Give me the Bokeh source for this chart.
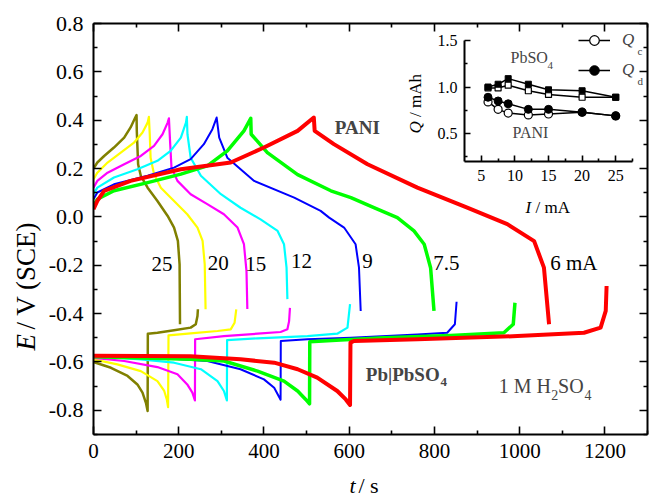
import math
from bokeh.plotting import figure
from bokeh.models import (Range1d, LinearAxis, FixedTicker, PrintfTickFormatter,
                          CustomJSTickFormatter, Label, Legend, LegendItem)
from bokeh.embed import file_html
from bokeh.resources import INLINE

SERIF = "Liberation Serif"
AXFONT = "'Liberation Serif'"

# ---------------- main chart data (t in s, E in V vs SCE) ----------------
# PANI electrode: charge up to ~0.41 V, then discharge
pani_25_t = [0, 9, 25, 48, 72, 87, 98, 101, 101.6, 104.7, 111, 127, 150, 174, 189, 198, 202, 203]
pani_25_E = [0.20, 0.225, 0.252, 0.287, 0.328, 0.370, 0.411, 0.421, 0.356, 0.218, 0.170, 0.121, 0.066, 0.004, -0.044, -0.099, -0.196, -0.444]
pani_20_t = [0, 9, 33, 64, 95, 115, 127, 130, 132, 134, 142, 158, 189, 220, 244, 256, 261, 263]
pani_20_E = [0.156, 0.183, 0.225, 0.266, 0.307, 0.349, 0.390, 0.414, 0.342, 0.245, 0.177, 0.121, 0.066, 0.011, -0.044, -0.099, -0.196, -0.382]
pani_15_t = [0, 9, 33, 72, 111, 142, 162, 174, 177, 180, 183, 197, 228, 267, 306, 338, 353, 359, 361]
pani_15_E = [0.121, 0.149, 0.183, 0.218, 0.252, 0.294, 0.342, 0.390, 0.408, 0.301, 0.204, 0.149, 0.094, 0.053, 0.011, -0.044, -0.113, -0.224, -0.381]
pani_12_t = [0, 9, 48, 103, 150, 181, 205, 217, 219, 220.5, 228, 252, 299, 345, 392, 432, 447, 453, 455]
pani_12_E = [0.094, 0.121, 0.163, 0.197, 0.232, 0.273, 0.328, 0.390, 0.414, 0.342, 0.245, 0.170, 0.094, 0.038, -0.010, -0.058, -0.113, -0.210, -0.340]
pani_9_t = [0, 9, 48, 127, 189, 228, 259, 279, 289, 295, 314, 377, 471, 533, 553, 588, 615, 623, 627]
pani_9_E = [0.073, 0.101, 0.135, 0.170, 0.204, 0.239, 0.301, 0.363, 0.411, 0.328, 0.245, 0.149, 0.080, 0.025, -0.003, -0.044, -0.113, -0.210, -0.389]
pani_75_t = [0, 9, 48, 127, 205, 267, 314, 353, 369, 370, 408, 479, 557, 604, 658, 713, 752, 776, 791, 799]
pani_75_E = [0.045, 0.073, 0.108, 0.142, 0.177, 0.211, 0.273, 0.356, 0.408, 0.342, 0.266, 0.175, 0.108, 0.080, 0.038, -0.003, -0.058, -0.113, -0.210, -0.389]
pani_6_t = [0, 9, 25, 87, 205, 322, 400, 479, 517, 519, 564, 643, 760, 877, 971, 1034, 1057, 1069]
pani_6_E = [0.032, 0.066, 0.108, 0.149, 0.197, 0.225, 0.287, 0.356, 0.411, 0.356, 0.301, 0.218, 0.121, 0.038, -0.030, -0.100, -0.210, -0.444]

# Pb|PbSO4 electrode: discharge down, then charge plateau
pb_25_t = [0, 41, 80, 103, 115, 123, 127, 127.5, 150, 189, 228, 240, 244, 245]
pb_25_E = [-0.600, -0.624, -0.658, -0.693, -0.727, -0.769, -0.803, -0.483, -0.479, -0.469, -0.458, -0.444, -0.410, -0.382]
pb_20_t = [0, 56, 111, 150, 166, 172, 175, 176, 228, 291, 322, 331, 335]
pb_20_E = [-0.589, -0.610, -0.638, -0.679, -0.720, -0.755, -0.787, -0.490, -0.482, -0.472, -0.465, -0.438, -0.382]
pb_15_t = [0, 72, 150, 197, 220, 232, 238, 238.5, 306, 385, 439, 455, 459, 461]
pb_15_E = [-0.583, -0.596, -0.621, -0.651, -0.693, -0.727, -0.759, -0.506, -0.493, -0.483, -0.476, -0.465, -0.431, -0.376]
pb_12_t = [0, 111, 189, 252, 291, 306, 313, 313.5, 385, 502, 572, 596, 602]
pb_12_E = [-0.576, -0.589, -0.603, -0.630, -0.679, -0.720, -0.759, -0.510, -0.502, -0.493, -0.483, -0.458, -0.361]
pb_9_t = [0, 150, 267, 345, 400, 424, 439, 439.5, 502, 604, 760, 830, 848, 852]
pb_9_E = [-0.573, -0.583, -0.596, -0.630, -0.672, -0.707, -0.756, -0.513, -0.506, -0.500, -0.486, -0.479, -0.444, -0.351]
pb_75_t = [0, 228, 306, 385, 447, 479, 498, 507, 507.5, 580, 682, 838, 963, 985, 989]
pb_75_E = [-0.578, -0.589, -0.596, -0.638, -0.679, -0.720, -0.755, -0.773, -0.516, -0.509, -0.500, -0.490, -0.479, -0.444, -0.355]
pb_6_t = [0, 228, 345, 424, 479, 525, 572, 592, 602, 603, 611, 760, 995, 1151, 1190, 1202, 1204]
pb_6_E = [-0.574, -0.576, -0.589, -0.603, -0.630, -0.665, -0.720, -0.755, -0.778, -0.520, -0.513, -0.506, -0.493, -0.479, -0.458, -0.389, -0.286]

current_labels = ["25", "20", "15", "12", "9", "7.5", "6 mA"]

# ticks
x_major = [0, 200, 400, 600, 800, 1000, 1200]
x_minor = [100, 300, 500, 700, 900, 1100, 1300]
y_major = [-0.8, -0.6, -0.4, -0.2, 0.0, 0.2, 0.4, 0.6, 0.8]
y_minor = [-0.9, -0.7, -0.5, -0.3, -0.1, 0.1, 0.3, 0.5, 0.7]

# ---------------- inset data ----------------
I_mA = [6, 7.5, 9, 12, 15, 20, 25]
pb_Qd = [1.00, 1.03, 1.09, 1.03, 0.97, 0.96, 0.89]
pb_Qc = [0.99, 0.99, 1.02, 0.96, 0.92, 0.89, 0.89]
pani_Qd = [0.89, 0.85, 0.82, 0.76, 0.76, 0.73, 0.69]
pani_Qc = [0.84, 0.76, 0.72, 0.70, 0.71, 0.73, 0.69]
ix_major = [5, 10, 15, 20, 25]
ix_minor = [7.5, 12.5, 17.5, 22.5, 27.5]
iy_major = [0.5, 1.0, 1.5]
iy_minor = [0.25, 0.75, 1.25]

# ---------------- styles ----------------
colors = ["#808000", "#FFFF00", "#FF00FF", "#00FFFF", "#0000FF", "#00FF00", "#FF0000"]
widths = [2.5, 2.2, 2.2, 2.2, 2.0, 3.5, 4.0]

pani_t = [pani_25_t, pani_20_t, pani_15_t, pani_12_t, pani_9_t, pani_75_t, pani_6_t]
pani_E = [pani_25_E, pani_20_E, pani_15_E, pani_12_E, pani_9_E, pani_75_E, pani_6_E]
pb_t = [pb_25_t, pb_20_t, pb_15_t, pb_12_t, pb_9_t, pb_75_t, pb_6_t]
pb_E = [pb_25_E, pb_20_E, pb_15_E, pb_12_E, pb_9_E, pb_75_E, pb_6_E]

p = figure(frame_width=554, frame_height=411,
           x_range=Range1d(0, 1300), y_range=Range1d(-0.9, 0.8),
           x_axis_type=None, y_axis_type=None,
           output_backend="svg", toolbar_location=None,
           min_border_left=93, min_border_right=2, min_border_top=23, min_border_bottom=64)
p.outline_line_color = None
p.background_fill_color = "white"
p.border_fill_color = "white"


def style_axis(ax, major, minor, fmt, size, tick_major=8, tick_minor=4, standoff=8):
    ax.ticker = FixedTicker(ticks=major, minor_ticks=minor)
    ax.formatter = fmt
    ax.axis_line_width = 2
    ax.axis_line_color = "black"
    ax.major_tick_in = tick_major
    ax.major_tick_out = 0
    ax.minor_tick_in = tick_minor
    ax.minor_tick_out = 0
    ax.major_tick_line_width = 1.6
    ax.minor_tick_line_width = 1.6
    ax.major_tick_line_color = "black"
    ax.minor_tick_line_color = "black"
    ax.major_label_text_font = AXFONT
    ax.major_label_text_font_size = size
    ax.major_label_text_font_style = "normal"
    ax.major_label_text_color = "black"
    ax.major_label_standoff = standoff


blank = CustomJSTickFormatter(code="return ''")
xb = LinearAxis()
style_axis(xb, x_major, x_minor, PrintfTickFormatter(format="%d"), "21px", standoff=9)
p.add_layout(xb, "below")
yl = LinearAxis()
style_axis(yl, y_major, y_minor, PrintfTickFormatter(format="%.1f"), "22px", standoff=10)
p.add_layout(yl, "left")
xt = LinearAxis()
style_axis(xt, x_major, x_minor, blank, "1px", standoff=0)
p.add_layout(xt, "above")
yr = LinearAxis()
style_axis(yr, y_major, y_minor, blank, "1px", standoff=0)
p.add_layout(yr, "right")

for i in range(len(colors)):
    p.line(pb_t[i], pb_E[i], line_color=colors[i], line_width=widths[i], line_join="round")
for i in range(len(colors)):
    p.line(pani_t[i], pani_E[i], line_color=colors[i], line_width=widths[i], line_join="round")

# curve labels (current)
label_pos = [(161, -0.195), (293, -0.19), (381, -0.195), (488, -0.183), (643, -0.183), (828, -0.19), (1127, -0.19)]
for txt, (lx, ly) in zip(current_labels, label_pos):
    p.add_layout(Label(x=lx, y=ly, text=txt, text_font=SERIF, text_font_size="21px",
                       text_align="center", text_baseline="middle", text_color="black"))

p.add_layout(Label(x=619, y=0.368, text="PANI", text_font=SERIF, text_font_size="19px",
                   text_font_style="bold", text_align="center", text_baseline="middle"))
p.add_layout(Label(x=639, y=-0.650, text="Pb|PbSO", text_font=SERIF, text_font_size="19px",
                   text_font_style="bold", text_align="left", text_baseline="middle"))
p.add_layout(Label(x=814, y=-0.683, text="4", text_font=SERIF, text_font_size="13px",
                   text_font_style="bold", text_align="left", text_baseline="middle"))
p.add_layout(Label(x=951, y=-0.700, text="1 M H", text_font=SERIF, text_font_size="20px",
                   text_align="left", text_baseline="middle"))
p.add_layout(Label(x=1074, y=-0.738, text="2", text_font=SERIF, text_font_size="14px",
                   text_align="left", text_baseline="middle"))
p.add_layout(Label(x=1090, y=-0.700, text="SO", text_font=SERIF, text_font_size="20px",
                   text_align="left", text_baseline="middle"))
p.add_layout(Label(x=1152, y=-0.738, text="4", text_font=SERIF, text_font_size="14px",
                   text_align="left", text_baseline="middle"))

# ---------------- inset ----------------
# frame extended to the right/top so that the legend fits; axes bounded to the data box
q = figure(frame_width=184, frame_height=135,
           x_range=Range1d(2.5, 29.88), y_range=Range1d(0.2, 1.65),
           x_axis_type=None, y_axis_type=None,
           output_backend="svg", toolbar_location=None,
           min_border_left=66, min_border_right=0, min_border_top=11, min_border_bottom=60)
q.outline_line_color = None
q.background_fill_color = None
q.border_fill_color = None

qx = LinearAxis(bounds=(2.5, 27.5))
style_axis(qx, ix_major, ix_minor, PrintfTickFormatter(format="%d"), "16px", tick_major=6, tick_minor=3, standoff=8)
q.add_layout(qx, "below")
qy = LinearAxis(bounds=(0.2, 1.5))
style_axis(qy, iy_major, iy_minor, PrintfTickFormatter(format="%.1f"), "16px", tick_major=6, tick_minor=3, standoff=7)
q.add_layout(qy, "left")

q.line(I_mA, pb_Qc, line_color="black", line_width=1.5)
q.line(I_mA, pb_Qd, line_color="black", line_width=1.5)
q.scatter(I_mA, pb_Qc, marker="square", size=6, fill_color="white", line_color="black", line_width=1.2)
q.scatter(I_mA, pb_Qd, marker="square", size=6, fill_color="black", line_color="black")
lc = q.line(I_mA, pani_Qc, line_color="black", line_width=1.5)
ld = q.line(I_mA, pani_Qd, line_color="black", line_width=1.5)
sc = q.scatter(I_mA, pani_Qc, marker="circle", size=8, fill_color="white", line_color="black", line_width=1.2)
sd = q.scatter(I_mA, pani_Qd, marker="circle", size=8, fill_color="black", line_color="black")

leg = Legend(items=[LegendItem(label="Q", renderers=[lc, sc]), LegendItem(label="Q", renderers=[ld, sd])],
             location=(114, 79), padding=0, margin=0, spacing=6, glyph_width=32, glyph_height=24,
             label_standoff=12, label_text_font=SERIF, label_text_font_size="17px",
             label_text_font_style="italic", border_line_color=None, background_fill_alpha=0)
q.add_layout(leg)
q.add_layout(Label(x=173, y=111, x_units="screen", y_units="screen", text="c", text_font=SERIF,
                   text_font_size="11px", text_align="left", text_baseline="middle"))
q.add_layout(Label(x=173, y=81, x_units="screen", y_units="screen", text="d", text_font=SERIF,
                   text_font_size="11px", text_align="left", text_baseline="middle"))

q.add_layout(Label(x=9.35, y=1.317, text="PbSO", text_font=SERIF, text_font_size="16px",
                   text_align="left", text_baseline="middle"))
q.add_layout(Label(x=14.85, y=1.23, text="4", text_font=SERIF, text_font_size="11px",
                   text_align="left", text_baseline="middle"))
q.add_layout(Label(x=9.64, y=0.51, text="PANI", text_font=SERIF, text_font_size="16px",
                   text_align="left", text_baseline="middle"))

q.styles = {"position": "absolute", "left": "398px", "top": "15px"}

# ---------------- overlay for axis titles (pixel space of the page) ----------------
ann = figure(width=649, height=498, x_range=Range1d(0, 649), y_range=Range1d(498, 0),
             x_axis_type=None, y_axis_type=None, output_backend="svg", toolbar_location=None,
             min_border=0)
ann.outline_line_color = None
ann.background_fill_color = None
ann.border_fill_color = None


def title_piece(x, y, text, size, italic=False, vertical=False):
    ann.add_layout(Label(x=x, y=y, text=text, text_font=SERIF, text_font_size=size,
                         text_font_style="italic" if italic else "normal",
                         angle=math.pi / 2 if vertical else 0,
                         text_align="left", text_baseline="middle", text_color="black"))


title_piece(349, 485, "t", "22px", italic=True)
title_piece(358, 485, "/ s", "22px")
title_piece(25, 350, "E", "27px", italic=True, vertical=True)
title_piece(25, 329, "/ V (SCE)", "27px", vertical=True)
title_piece(525, 207, "I", "17px", italic=True)
title_piece(535, 207, "/ mA", "17px")
title_piece(415, 133, "Q", "17px", italic=True, vertical=True)
title_piece(415, 116.5, "/ mAh", "17px", vertical=True)

ann.styles = {"position": "absolute", "left": "0px", "top": "0px"}

open("out.html", "w").write(file_html([p, q, ann], INLINE))
